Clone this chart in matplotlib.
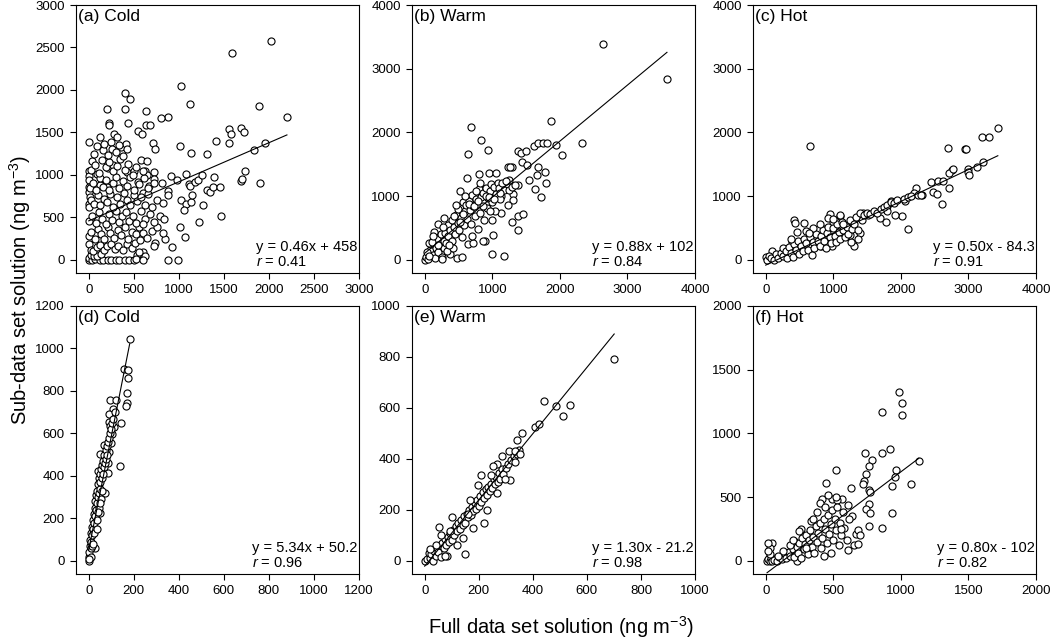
import numpy as np
import matplotlib.pyplot as plt

plt.rcParams['font.family'] = ['Liberation Sans', 'DejaVu Sans']
plt.rcParams['mathtext.fontset'] = 'custom'
plt.rcParams['mathtext.rm'] = 'Liberation Sans'
plt.rcParams['mathtext.it'] = 'Liberation Sans:italic'

# Data: (full data set, sub-data set) in ng m-3
pts_a = np.array([
    (2020, 2580), (1590, 2440), (1020, 2045), (1120, 1830), (400, 1965), (460, 1890), (200, 1775),
    (400, 1775), (640, 1755), (880, 1685), (805, 1675), (1885, 1810), (2200, 1685), (220, 1615),
    (230, 1590), (440, 1615), (640, 1585), (680, 1590), (550, 1515), (595, 1475), (1560, 1535),
    (1580, 1485), (1690, 1555), (1725, 1505), (0, 1385), (95, 1340), (35, 1165), (160, 1290),
    (285, 1475), (245, 1385), (360, 1330), (410, 1360), (715, 1370), (735, 1300), (1010, 1340),
    (1140, 1260), (1415, 1400), (1560, 1380), (1960, 1375), (1830, 1290), (1310, 1240), (580, 1180),
    (1690, 930), (1730, 1050), (1700, 955), (1905, 900),
    (0, 1050), (0, 990), (0, 935), (0, 855), (0, 795), (0, 660), (10, 740), (90, 1010), (130, 880),
    (200, 855), (210, 1080), (270, 1120), (430, 1030), (500, 1050), (620, 1045), (650, 1000),
    (730, 1030), (720, 950), (670, 870), (600, 790), (550, 910), (810, 900), (910, 990), (875, 805),
    (985, 935), (1080, 1010), (1110, 895), (1125, 870), (1175, 915), (1210, 935), (1260, 1000),
    (1310, 825), (1350, 800), (1385, 855), (1460, 855), (1395, 975), (1025, 700), (1080, 660),
    (1140, 680), (1055, 590), (1270, 650), (1145, 765),
    (1220, 440), (1465, 510), (1015, 380), (1070, 265), (925, 155), (850, 245), (735, 200),
    (720, 165), (600, 95), (535, 55), (620, 45), (880, 0), (990, 0),
    (0, 0), (0, 20), (40, 0), (70, 10), (120, 0), (160, 0), (210, 0), (250, 0), (300, 0), (340, 0),
    (400, 0), (450, 0), (500, 0), (520, 10), (600, 0), (20, 60), (60, 50), (90, 40), (140, 70),
    (0, 180), (20, 120), (50, 100), (90, 150), (130, 170), (170, 120), (200, 160), (250, 190),
    (290, 130), (330, 160), (380, 110), (430, 180), (480, 140), (560, 90), (510, 200),
    (0, 280), (30, 330), (70, 250), (100, 360), (140, 300), (170, 240), (210, 380), (240, 320),
    (280, 260), (320, 350), (360, 290), (400, 380), (440, 250), (480, 330), (520, 300), (560, 380),
    (600, 320), (650, 260), (700, 340), (760, 380), (820, 310), (570, 230),
    (0, 460), (40, 520), (80, 430), (110, 560), (150, 480), (190, 420), (220, 540), (260, 470),
    (300, 580), (340, 440), (370, 510), (410, 560), (450, 460), (490, 520), (530, 430), (580, 570),
    (630, 480), (680, 540), (720, 450), (790, 520), (840, 480), (600, 420),
    (0, 620), (30, 700), (60, 660), (100, 760), (130, 640), (170, 720), (200, 680), (240, 780),
    (270, 620), (310, 740), (350, 660), (390, 790), (420, 700), (460, 640), (500, 760), (540, 690),
    (580, 740), (620, 650), (660, 780), (700, 620), (760, 700), (830, 670), (880, 760),
    (10, 840), (50, 900), (80, 820), (120, 960), (160, 860), (190, 940), (230, 820), (270, 900),
    (300, 980), (340, 850), (380, 930), (420, 870), (460, 980), (500, 820), (560, 890), (610, 960),
    (660, 840), (720, 900),
    (30, 1060), (70, 1120), (110, 1020), (150, 1180), (190, 1090), (230, 1150), (270, 1040),
    (310, 1100), (350, 1190), (400, 1060), (440, 1130), (490, 1000), (530, 1090), (600, 1040),
    (650, 1160), (60, 1240), (170, 1360), (210, 1230), (260, 1300), (300, 1270), (340, 1350),
    (380, 1220), (430, 1300), (310, 1440), (120, 1440),
])

pts_b = np.array([
    (2640, 3380), (3585, 2840), (1865, 2185), (690, 2090), (830, 1875), (935, 1720), (645, 1665),
    (1940, 1800), (2325, 1840), (2030, 1650), (1620, 1790), (1680, 1830), (1745, 1840), (1815, 1840),
    (1380, 1710), (1420, 1680), (1495, 1700), (1445, 1535), (1520, 1490), (1545, 1260), (1655, 1325),
    (1670, 1460), (1780, 1385), (1800, 1200), (1635, 1115), (1720, 985), (1290, 1455), (1235, 1460),
    (1260, 1455), (1385, 1170), (1300, 1025), (1310, 945), (1385, 680), (1460, 720), (1380, 465),
    (1285, 590), (1180, 60), (990, 95), (1010, 390), (885, 300), (520, 1080), (620, 1280),
    (810, 1340), (950, 1360), (1050, 1370), (1250, 1250), (1125, 1000), (1125, 735),
    (0, 0), (20, 50), (50, 10), (80, 150), (100, 250), (120, 80), (150, 30), (160, 190), (180, 320),
    (200, 120), (220, 240), (240, 400), (250, 40), (260, 10), (280, 300), (290, 180), (300, 420),
    (320, 260), (340, 550), (350, 380), (370, 90), (380, 470), (400, 300), (410, 620), (430, 520),
    (450, 400), (470, 700), (480, 30), (490, 580), (500, 800), (510, 460), (530, 660), (550, 40),
    (560, 900), (580, 540), (600, 760), (610, 860), (630, 640), (640, 240), (650, 930), (670, 780),
    (680, 560), (700, 1010), (710, 850), (720, 260), (740, 690), (760, 950), (780, 880), (790, 480),
    (810, 1110), (820, 730), (840, 990), (860, 1050), (880, 620), (900, 1130), (920, 820),
    (940, 970), (960, 1080), (980, 1190), (1000, 900), (1020, 1140), (1040, 760), (1060, 1040),
    (1080, 1200), (1100, 1120), (1120, 960), (1150, 1210), (1180, 1090), (1200, 1240), (1230, 860),
    (1250, 1100), (1290, 1140), (1340, 1180), (60, 260), (140, 440), (110, 280), (200, 560),
    (290, 650), (330, 130), (420, 180), (470, 860), (550, 350), (600, 1000), (700, 380), (760, 1080),
    (860, 290), (900, 1000), (960, 760), (1000, 620), (820, 1210), (30, 120), (70, 60), (130, 370),
    (190, 230), (270, 510), (360, 230), (440, 680), (520, 600), (570, 720), (660, 880), (730, 840),
    (790, 920), (870, 850), (950, 980), (1030, 960), (1110, 1050),
])

pts_c = np.array([
    (650, 1780), (3435, 2070), (3205, 1920), (3310, 1920), (2700, 1760), (2950, 1735), (2965, 1740),
    (3210, 1540), (2990, 1430), (2990, 1380), (3125, 1455), (3010, 1330), (2750, 1415), (2715, 1355),
    (2770, 1420), (2715, 1130), (2450, 1225), (2555, 1235), (2620, 1235), (2480, 1065), (2530, 1040),
    (2605, 875), (2315, 1010), (2220, 1120), (2200, 1050), (2060, 920), (2020, 685), (2110, 485),
    (1910, 695), (1860, 920), (1800, 840), (1800, 760), (1690, 655), (1780, 590), (1615, 750),
    (1515, 710), (1445, 735), (1420, 630), (1395, 420), (1370, 325), (1310, 210), (1260, 275),
    (1245, 395), (1120, 525), (1105, 685), (1000, 590), (950, 720), (925, 650), (990, 430), (975, 210),
    (860, 485), (825, 210), (715, 370), (570, 580), (420, 630), (430, 570), (395, 275), (280, 170),
    (205, 55), (100, 130), (0, 40), (25, 0),
    (50, 60), (80, 20), (120, 0), (150, 90), (180, 30), (220, 110), (250, 60), (260, 190), (300, 130),
    (320, 20), (350, 200), (380, 100), (400, 50), (420, 240), (450, 160), (480, 300), (500, 90),
    (520, 220), (550, 140), (560, 330), (600, 260), (620, 160), (650, 350), (680, 70), (700, 280),
    (720, 180), (750, 400), (770, 300), (800, 220), (820, 380), (850, 470), (870, 300), (890, 180),
    (900, 420), (920, 520), (950, 350), (970, 260), (1000, 500), (1020, 380), (1040, 280),
    (1060, 560), (1080, 430), (1100, 320), (1130, 600), (1150, 470), (1170, 350), (1200, 520),
    (1220, 410), (1250, 630), (1280, 480), (1300, 560), (1330, 670), (1360, 470), (1400, 740),
    (1450, 700), (1500, 730), (1550, 720), (1600, 760), (1650, 730), (1700, 800), (1750, 830),
    (1800, 860), (1850, 900), (1900, 890), (1950, 940), (2050, 960), (2100, 990), (2150, 1000),
    (2250, 1020), (2300, 1020), (700, 500), (600, 450), (800, 560), (1000, 640), (1100, 700),
    (1150, 560), (380, 320), (470, 430), (640, 420),
])

pts_d = np.array([
    (182, 1045), (155, 905), (175, 900), (173, 860), (170, 790), (169, 745), (166, 730), (144, 650),
    (138, 445), (93, 755), (121, 755), (107, 715), (89, 690), (89, 655), (96, 635), (111, 630),
    (104, 595), (101, 555), (67, 545), (89, 510), (86, 460), (87, 415), (52, 505), (67, 460),
    (41, 425), (74, 320), (44, 360), (52, 225), (30, 60),
    (0, 0), (0, 20), (2, 40), (4, 70), (5, 100), (8, 60), (10, 130), (12, 90), (14, 160), (16, 120),
    (18, 190), (20, 150), (22, 220), (24, 180), (26, 250), (28, 210), (30, 280), (32, 240), (34, 310),
    (36, 270), (38, 330), (40, 300), (42, 360), (44, 320), (46, 390), (48, 340), (50, 410), (52, 370),
    (55, 430), (58, 390), (60, 450), (62, 410), (65, 470), (68, 440), (70, 500), (72, 460), (75, 520),
    (78, 480), (80, 540), (83, 500), (85, 560), (90, 580), (95, 600), (100, 620), (105, 650),
    (110, 670), (115, 700), (60, 330), (55, 290), (45, 250), (35, 190), (25, 130), (15, 70), (8, 20),
    (3, 10), (20, 80), (35, 150), (50, 270), (40, 230),
])

pts_e = np.array([
    (0, 0), (10, 5), (15, 30), (20, 10), (25, 25), (30, 0), (35, 40), (40, 20), (45, 50), (50, 35),
    (55, 60), (60, 15), (65, 70), (70, 50), (75, 85), (80, 60), (85, 95), (90, 75), (95, 110),
    (100, 80), (105, 120), (110, 100), (115, 135), (120, 115), (125, 150), (130, 125), (135, 160),
    (140, 140), (145, 175), (150, 150), (155, 185), (160, 170), (165, 200), (170, 180), (175, 210),
    (180, 195), (185, 225), (190, 205), (195, 240), (200, 215), (205, 255), (210, 230), (215, 270),
    (220, 245), (225, 280), (230, 260), (235, 290), (240, 275), (245, 300), (250, 285), (255, 320),
    (260, 300), (265, 330), (270, 310), (275, 345), (280, 320), (285, 360), (290, 340), (300, 365),
    (310, 380), (320, 395), (330, 410), (340, 420), (350, 435),
    (701, 790), (441, 628), (485, 608), (537, 611), (513, 570), (408, 526), (422, 537), (361, 500),
    (340, 474), (312, 432), (335, 432), (352, 420), (335, 386), (315, 316), (296, 322), (285, 413),
    (268, 378), (251, 371), (245, 336), (266, 266), (210, 336), (198, 299), (220, 149), (148, 26),
    (53, 132), (167, 237), (160, 184), (93, 118), (83, 17), (60, 100), (120, 60), (180, 130),
    (140, 90), (230, 200), (100, 170), (75, 20), (40, 60), (20, 45),
])

pts_f = np.array([
    (988, 1328), (1012, 1241), (1010, 1144), (862, 1165), (919, 876), (862, 849), (734, 847),
    (1133, 784), (1076, 605), (961, 715), (956, 657), (933, 586), (931, 376), (862, 258), (783, 789),
    (768, 744), (739, 684), (727, 626), (761, 558), (771, 539), (761, 447), (739, 408), (771, 376),
    (761, 276), (722, 600), (520, 715), (448, 613), (414, 487), (628, 571), (562, 487), (608, 439),
    (640, 350), (608, 84), (665, 210), (685, 242), (493, 487), (530, 480), (333, 316), (264, 247),
    (209, 158), (44, 137), (30, 97), (32, 39), (234, 0),
    (10, 0), (20, 10), (30, 0), (40, 20), (50, 0), (60, 5), (80, 0), (100, 30), (120, 10), (140, 50),
    (150, 20), (170, 70), (180, 40), (200, 90), (210, 30), (230, 110), (240, 60), (250, 140),
    (260, 20), (270, 180), (280, 90), (290, 130), (300, 200), (310, 50), (320, 160), (330, 240),
    (340, 110), (350, 190), (360, 60), (370, 270), (380, 150), (390, 220), (400, 300), (410, 100),
    (420, 180), (430, 330), (440, 250), (450, 140), (460, 360), (470, 210), (480, 290), (490, 400),
    (500, 160), (510, 330), (520, 240), (530, 420), (540, 120), (550, 300), (560, 200), (570, 380),
    (580, 260), (600, 160), (620, 330), (650, 120), (680, 130), (700, 200), (350, 330), (250, 230),
    (180, 120), (130, 80), (90, 40), (30, 50), (15, 140), (20, 80), (480, 60), (430, 40), (400, 450),
    (520, 500), (460, 520), (560, 250), (380, 380), (300, 100), (200, 160), (440, 420),
])

titles = ['(a) Cold', '(b) Warm', '(c) Hot', '(d) Cold', '(e) Warm', '(f) Hot']
slopes = [0.46, 0.88, 0.50, 5.34, 1.30, 0.80]
intercepts = [458, 102, -84.3, 50.2, -21.2, -102]
r_values = [0.41, 0.84, 0.91, 0.96, 0.98, 0.82]
eq_texts = ['y = 0.46x + 458', 'y = 0.88x + 102', 'y = 0.50x - 84.3',
            'y = 5.34x + 50.2', 'y = 1.30x - 21.2', 'y = 0.80x - 102']
axis_max = [3000, 4000, 4000, 1200, 1000, 2000]
tick_step = [500, 1000, 1000, 200, 200, 500]
all_pts = [pts_a, pts_b, pts_c, pts_d, pts_e, pts_f]

fig = plt.figure(figsize=(10.5, 6.38), dpi=100)
lefts = [76, 412, 753]
tops = [5, 306]
W, H = 1050, 638

for i in range(6):
    row, col = divmod(i, 3)
    ax = fig.add_axes([lefts[col] / W, 1 - (tops[row] + 268) / H, 283 / W, 268 / H])
    pts = all_pts[i]
    m = axis_max[i]

    # regression line from the printed equation
    xs = np.array([pts[:, 0].min(), pts[:, 0].max()])
    ax.plot(xs, slopes[i] * xs + intercepts[i], color='black', lw=0.8, zorder=3)
    ax.scatter(pts[:, 0], pts[:, 1], s=26, facecolor='white', edgecolor='black',
               linewidth=0.8, zorder=2)

    ax.set_xlim(-0.047 * m, m)
    ax.set_ylim(-0.052 * m, m)
    ticks = np.arange(0, m + 1, tick_step[i])
    ax.set_xticks(ticks)
    ax.set_yticks(ticks)
    ax.tick_params(direction='out', length=4, width=0.8, labelsize=9.5, pad=4)
    for s in ax.spines.values():
        s.set_linewidth(0.8)

    ax.text(0.008, 0.985, titles[i], transform=ax.transAxes, ha='left', va='top', fontsize=12.5)
    ax.text(0.995, 0.015, eq_texts[i] + '\n' + r'$r$ = %.2f' % r_values[i],
            transform=ax.transAxes, ha='right', va='bottom', multialignment='left',
            fontsize=10.5, linespacing=1.1)

fig.text(0.019, 0.545, 'Sub-data set solution (ng m$^{-3}$)', rotation=90,
         ha='center', va='center', fontsize=14.5)
fig.text(0.534, 0.017, 'Full data set solution (ng m$^{-3}$)', ha='center', va='center',
         fontsize=14.5)

fig.savefig('out.png', dpi=100)
